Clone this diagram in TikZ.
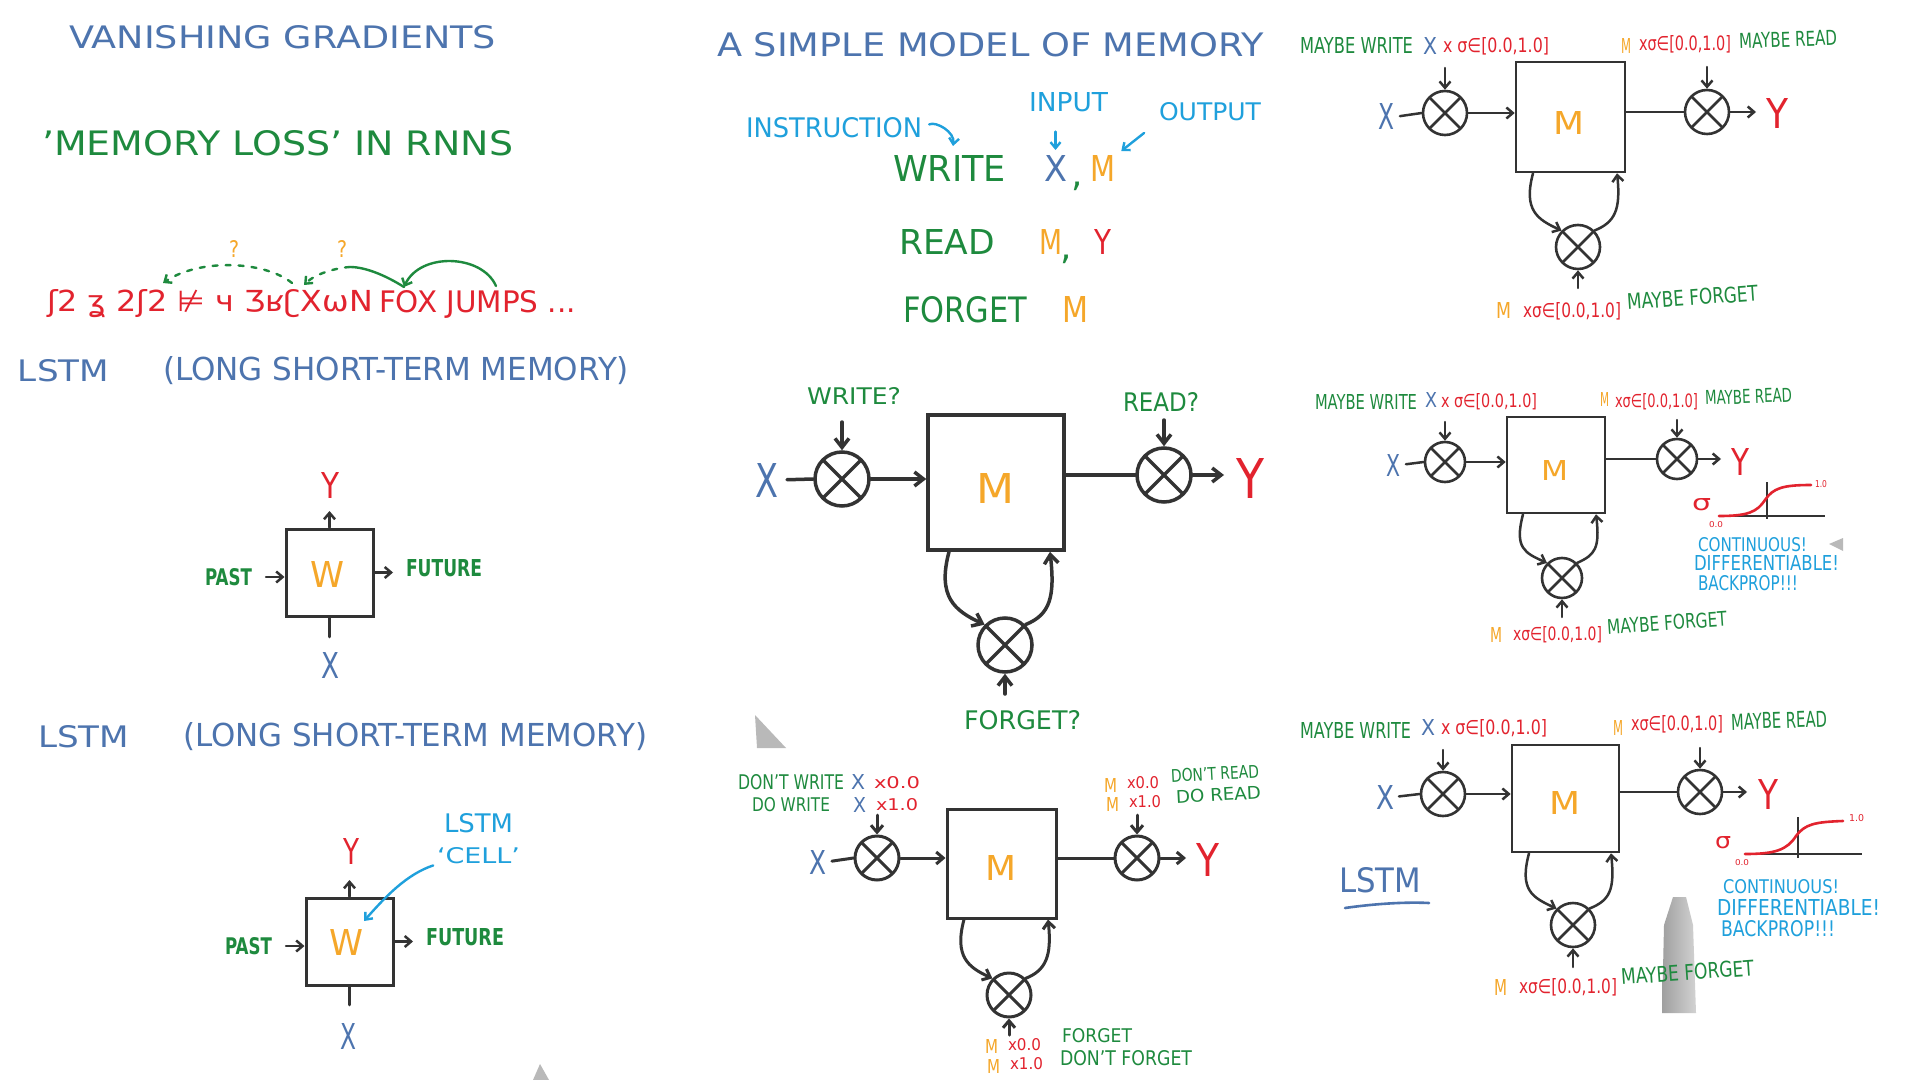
\documentclass[tikz,border=0pt]{standalone}
\usepackage{fontspec}
\setmainfont{DejaVu Sans}
\usepackage{graphicx}
\usetikzlibrary{arrows.meta}
\definecolor{cblue}{HTML}{4D74AE}
\definecolor{cgreen}{HTML}{1E8A3E}
\definecolor{cred}{HTML}{E2232E}
\definecolor{corange}{HTML}{F5A72A}
\definecolor{ccyan}{HTML}{1FA0DC}
\definecolor{ink}{HTML}{333333}
\newlength\px \setlength\px{0.5pt}
\newcommand\rsz[4]{\resizebox{\dimexpr\px*(#2-#1)\relax}{\dimexpr\px*(#3)\relax}{#4}}
\newcommand\tlab[8][]{\node[lab,text=#3,anchor=west,#1] (#2) at (#4,#6) {\rsz{#4}{#5}{#7}{#8}};}
\begin{document}
\begin{tikzpicture}[x=0.5pt,y=-0.5pt,
 lab/.style={inner sep=0pt,outer sep=0pt},
 ln/.style={draw=ink,line width=1.75pt,line cap=round},
 arr/.style={ln,-{Straight Barb[length=4.5pt,width=7pt]}},
 mln/.style={draw=ink,line width=1.5pt,line cap=round},
 marr/.style={mln,-{Straight Barb[length=3.5pt,width=6pt]}},
 sln/.style={draw=ink,line width=1.25pt,line cap=round},
 sarr/.style={sln,-{Straight Barb[length=3.2pt,width=5.5pt]}},
 carr/.style={draw=ccyan,line width=1.2pt,line cap=round,-{Straight Barb[length=3pt,width=5pt]}},
 gsol/.style={draw=cgreen,line width=1.2pt,line cap=round},
 gdash/.style={draw=cgreen,line width=1.2pt,line cap=round,dash pattern=on 2.5pt off 4pt},
 mbox/.style={draw=ink,line width=1.5pt,inner sep=0pt},
 mult/.style={circle,draw=ink,line width=#1,inner sep=0pt,
   path picture={\draw[ink,line width=#1] (path picture bounding box.north west)--(path picture bounding box.south east) (path picture bounding box.north east)--(path picture bounding box.south west);}},
 pen/.style={fill=gray!55,draw=none}]
\fill[white] (0,0) rectangle (1920,1080);
\useasboundingbox (0,0) rectangle (1920,1080);

% pens (background artefacts)
\fill[pen] (755,715) -- (786,748) -- (757,748) -- cycle;
\fill[pen] (540,1064) -- (549,1080) -- (533,1080) -- cycle;
\fill[pen] (1829,544) -- (1843,538) -- (1843,551) -- cycle;
\shade[left color=gray!75,right color=gray!35] (1673,897) -- (1686,897) -- (1693,925) -- (1696,1013) -- (1662,1013) -- (1664,925) -- cycle;

% ---------------- left column
\tlab{t1}{cblue}{69}{496}{37}{23}{VANISHING GRADIENTS}
\tlab{t2}{cgreen}{42}{513}{143}{25}{'MEMORY LOSS' IN RNNS}
\tlab{q1}{corange}{229}{239}{249}{17}{?}
\tlab{q2}{corange}{337}{347}{249}{17}{?}
\tlab{g}{cred}{47}{373}{304}{22}{ʃ2 ʓ 2ʃ2 ⊭ ч ƷʁʗXωN}
\tlab{fox}{cred}{379}{576}{304}{22}{FOX JUMPS ...}
\coordinate (a1) at (163,283);
\coordinate (d1) at (292,283);
\coordinate (a2) at (304,285);
\coordinate (s2) at (350,267);
\coordinate (a3) at (404,287);
\coordinate (j1) at (496,286);
\draw[gdash,-{Straight Barb[length=3pt,width=5pt]}] (d1) .. controls (265,261) and (200,258) .. (a1);
\draw[gdash,-{Straight Barb[length=3pt,width=5pt]}] (s2) .. controls (335,268) and (315,274) .. (a2);
\draw[gsol] (a3) .. controls (385,275) and (365,267) .. (s2);
\draw[gsol,-{Straight Barb[length=3pt,width=5.5pt]}] (j1) .. controls (482,254) and (420,252) .. (a3);
\tlab{t3}{cblue}{18}{109}{371}{22}{LSTM}
\tlab{t4}{cblue}{163}{629}{371}{24}{(LONG SHORT-TERM MEMORY)}

% box 1
\node[mbox,minimum width=43.5pt,minimum height=43.5pt] (B1) at (329.5,572.5) {};
\node[lab,text=corange] (W1t) at (327,574) {\rsz{0}{34}{26}{W}};
\tlab{Y1}{cred}{321}{339}{485}{26}{Y}
\tlab{X1}{cblue}{321}{339}{665}{26}{X}
\tlab[font=\bfseries]{P1}{cgreen}{205}{252}{577}{17}{PAST}
\tlab[font=\bfseries]{FU1}{cgreen}{406}{482}{568}{17}{FUTURE}
\draw[sarr,shorten >=6.5pt] (B1.north) -- (B1.north |- Y1.south);
\draw[sln,shorten >=7.5pt] (B1.south) -- (B1.south |- X1.north);
\draw[sarr,shorten <=7pt] (P1.east) -- (P1.east -| B1.west);
\draw[sarr,shorten >=6.5pt] (B1.east) -- (B1.east -| FU1.west);

\tlab{t5}{cblue}{38}{129}{737}{22}{LSTM}
\tlab{t6}{cblue}{183}{647}{737}{24}{(LONG SHORT-TERM MEMORY)}

% box 2
\node[mbox,minimum width=43.5pt,minimum height=43.5pt] (B2) at (349.5,941.5) {};
\node[lab,text=corange] (W2t) at (346,942.5) {\rsz{0}{34}{26}{W}};
\tlab{Y2}{cred}{343}{359}{851}{26}{Y}
\tlab{X2}{cblue}{340}{356}{1036}{26}{X}
\tlab[font=\bfseries]{P2}{cgreen}{225}{272}{946}{17}{PAST}
\tlab[font=\bfseries]{FU2}{cgreen}{426}{504}{937}{17}{FUTURE}
\draw[sarr,shorten >=8pt] (B2.north) -- (B2.north |- Y2.south);
\draw[sln,shorten >=9pt] (B2.south) -- (B2.south |- X2.north);
\draw[sarr,shorten <=7pt] (P2.east) -- (P2.east -| B2.west);
\draw[sarr,shorten >=6.5pt] (B2.east) -- (B2.east -| FU2.west);
\tlab{LC}{ccyan}{444}{513}{823}{19}{LSTM}
\tlab{CL}{ccyan}{437}{520}{856}{16}{`CELL'}
\coordinate (cellend) at (364,921);
\draw[carr,shorten <=2pt] (CL.south west) .. controls +(-30,10) and +(22,-25) .. (cellend);

% ---------------- middle top
\tlab{t7}{cblue}{717}{1264}{45}{24}{A SIMPLE MODEL OF MEMORY}
\tlab{INS}{ccyan}{746}{922}{128}{20}{INSTRUCTION}
\tlab{INP}{ccyan}{1029}{1108}{102}{19}{INPUT}
\tlab{OUT}{ccyan}{1159}{1261}{112}{18}{OUTPUT}
\tlab{WR}{cgreen}{893}{1006}{169}{26}{WRITE}
\tlab{WX}{cblue}{1044}{1067}{169}{26}{X}
\node[lab,text=cgreen,font=\fontsize{18pt}{18pt}\selectfont] (WC) at (1077,186) {,};
\tlab{WM}{corange}{1090}{1115}{169}{26}{M}
\tlab{RD}{cgreen}{899}{995}{242}{25}{READ}
\tlab{RM}{corange}{1039}{1062}{242}{25}{M}
\node[lab,text=cgreen,font=\fontsize{18pt}{18pt}\selectfont] (RC) at (1066,259) {,};
\tlab{RY}{cred}{1094}{1111}{242}{25}{Y}
\tlab{FG}{cgreen}{903}{1027}{310}{26}{FORGET}
\tlab{FM}{corange}{1062}{1088}{310}{26}{M}
\coordinate (insend) at (953,146);
\draw[carr,shorten <=4pt] (INS.east) .. controls +(14,-7) and +(2,-14) .. (insend);
\draw[carr,shorten <=10pt,shorten >=3pt] (INP.south -| WX.north) -- (WX.north);
\draw[carr,shorten <=9.5pt,shorten >=4pt] (OUT.south west) -- (WM.north east);

% ---------------- middle big diagram
\tlab{WQ}{cgreen}{807}{901}{396}{17}{WRITE?}
\tlab{RQ}{cgreen}{1123}{1199}{402}{19}{READ?}
\tlab{FQ}{cgreen}{964}{1081}{720}{19}{FORGET?}
\tlab{BX}{cblue}{755}{778}{480}{34}{X}
\tlab{BY}{cred}{1236}{1264}{478}{40}{Y}
\node[mbox,line width=1.75pt,minimum width=68pt,minimum height=67.5pt] (BB) at (996,482.5) {};
\tlab{BM}{corange}{976}{1014}{488}{30}{M}
\node[mult=1.75pt,minimum size=27pt] (GW) at (842,479) {};
\node[mult=1.75pt,minimum size=27pt] (GR) at (1164,475) {};
\node[mult=1.75pt,minimum size=27pt] (GF) at (1005,645) {};
\coordinate (gwin) at (842,422);
\coordinate (grin) at (1164,420);
\coordinate (gfin) at (1005,694);
\draw[arr] (gwin) -- (GW.north);
\draw[arr] (grin) -- (GR.north);
\draw[arr] (gfin) -- (GF.south);
\draw[ln,shorten <=4.5pt] (BX.east) -- (GW.west);
\draw[arr] (GW.east) -- (GW.east -| BB.west);
\draw[ln] (GR.west -| BB.east) -- (GR.west);
\draw[arr,shorten >=6pt] (GR.east) -- (GR.east -| BY.west);
\draw[arr] ([xshift=-23.5pt]BB.south) .. controls +(-12,45) and +(-30,-14) .. (GF.north west);
\draw[arr] (GF.north east) .. controls +(25,-10) and +(5,45) .. ([xshift=27pt]BB.south);

% ---------------- middle bottom diagram
\tlab{DW}{cgreen}{738}{844}{782}{15}{DON'T WRITE}
\tlab{DWX}{cblue}{851}{865}{782}{15}{X}
\tlab{DWV}{cred}{874}{920}{783}{12}{x0.0}
\tlab{OW}{cgreen}{752}{830}{805}{14}{DO WRITE}
\tlab{OWX}{cblue}{853}{866}{805}{15}{X}
\tlab{OWV}{cred}{876}{918}{805}{12}{x1.0}
\tlab{X3}{cblue}{809}{826}{862}{24}{X}
\node[mbox,minimum width=54.5pt,minimum height=54.5pt] (B3) at (1001.5,863.5) {};
\tlab{M3}{corange}{985}{1016}{868}{25}{M}
\node[mult=1.5pt,minimum size=22pt] (GW3) at (877,858) {};
\node[mult=1.5pt,minimum size=22pt] (GR3) at (1137,858) {};
\node[mult=1.5pt,minimum size=22pt] (GF3) at (1009,995) {};
\tlab{Y3}{cred}{1196}{1219}{860}{33}{Y}
\coordinate (gw3) at (877,815);
\coordinate (gr3) at (1137,815);
\coordinate (gf3) at (1009,1035);
\draw[marr] (gw3) -- (GW3.north);
\draw[marr] (gr3) -- (GR3.north);
\draw[marr] (gf3) -- (GF3.south);
\draw[mln,shorten <=3pt] (X3.east) -- (GW3.west);
\draw[marr] (GW3.east) -- (GW3.east -| B3.west);
\draw[mln] (GR3.west -| B3.east) -- (GR3.west);
\draw[marr,shorten >=5pt] (GR3.east) -- (GR3.east -| Y3.west);
\draw[marr] ([xshift=-18.75pt]B3.south) .. controls +(-10,37) and +(-24,-11) .. (GF3.north west);
\draw[marr] (GF3.north east) .. controls +(20,-8) and +(4,37) .. ([xshift=23.25pt]B3.south);
\tlab{RM1}{corange}{1104}{1117}{785}{14}{M}
\tlab{RV1}{cred}{1127}{1159}{783}{12}{x0.0}
\tlab[rotate=3]{DR}{cgreen}{1171}{1259}{776}{13}{DON'T READ}
\tlab{RM2}{corange}{1106}{1119}{804}{14}{M}
\tlab{RV2}{cred}{1129}{1161}{802}{12}{x1.0}
\tlab[rotate=3]{DOR}{cgreen}{1176}{1261}{797}{13}{DO READ}
\tlab{FM1}{corange}{985}{998}{1046}{14}{M}
\tlab{FV1}{cred}{1008}{1041}{1045}{12}{x0.0}
\tlab{FGT}{cgreen}{1062}{1132}{1036}{14}{FORGET}
\tlab{FM2}{corange}{987}{1000}{1066}{14}{M}
\tlab{FV2}{cred}{1010}{1043}{1064}{12}{x1.0}
\tlab{DFG}{cgreen}{1060}{1192}{1058}{15}{DON'T FORGET}

% ---------------- right top diagram
\tlab{MW4}{cgreen}{1300}{1413}{46}{16}{MAYBE WRITE}
\tlab{MX4}{cblue}{1423}{1437}{46}{17}{X}
\tlab{MS4}{cred}{1443}{1549}{46}{15}{x σ∈[0.0,1.0]}
\tlab{MM4}{corange}{1621}{1631}{46}{15}{M}
\tlab{MT4}{cred}{1639}{1731}{44}{15}{xσ∈[0.0,1.0]}
\tlab[rotate=2]{MR4}{cgreen}{1739}{1837}{41}{15}{MAYBE READ}
\node[mbox,line width=1.3pt,minimum width=54.5pt,minimum height=55pt] (B4) at (1570.5,117) {};
\tlab{M4}{corange}{1553}{1584}{123}{23}{M}
\node[mult=1.3pt,minimum size=22pt] (GW4) at (1445,113) {};
\node[mult=1.3pt,minimum size=22pt] (GR4) at (1707,112) {};
\node[mult=1.3pt,minimum size=22pt] (GF4) at (1578,247) {};
\tlab{X4}{cblue}{1378}{1394}{117}{26}{X}
\tlab{Y4}{cred}{1766}{1788}{114}{30}{Y}
\coordinate (gw4) at (1445,68);
\coordinate (gr4) at (1707,67);
\coordinate (gf4) at (1578,288);
\draw[sarr] (gw4) -- (GW4.north);
\draw[sarr] (gr4) -- (GR4.north);
\draw[sarr] (gf4) -- (GF4.south);
\draw[sln,shorten <=3pt] (X4.east) -- (GW4.west);
\draw[sarr] (GW4.east) -- (GW4.east -| B4.west);
\draw[sln] (GR4.west -| B4.east) -- (GR4.west);
\draw[sarr,shorten >=5pt] (GR4.east) -- (GR4.east -| Y4.west);
\draw[sarr] ([xshift=-18.75pt]B4.south) .. controls +(-10,37) and +(-24,-11) .. (GF4.north west);
\draw[sarr] (GF4.north east) .. controls +(20,-8) and +(4,37) .. ([xshift=23.25pt]B4.south);
\tlab{FM4}{corange}{1496}{1511}{311}{16}{M}
\tlab{FS4}{cred}{1523}{1621}{311}{15}{xσ∈[0.0,1.0]}
\tlab[rotate=4]{FL4}{cgreen}{1627}{1758}{302}{16}{MAYBE FORGET}

% ---------------- right middle diagram
\tlab{MW5}{cgreen}{1315}{1417}{402}{15}{MAYBE WRITE}
\tlab{MX5}{cblue}{1425}{1437}{400}{15}{X}
\tlab{MS5}{cred}{1441}{1537}{402}{14}{x σ∈[0.0,1.0]}
\tlab{MM5}{corange}{1600}{1609}{400}{14}{M}
\tlab{MT5}{cred}{1615}{1698}{402}{14}{xσ∈[0.0,1.0]}
\tlab[rotate=2]{MR5}{cgreen}{1705}{1792}{398}{14}{MAYBE READ}
\node[mbox,line width=1.3pt,minimum width=49pt,minimum height=48pt] (B5) at (1556,465) {};
\tlab{M5}{corange}{1541}{1568}{470}{20}{M}
\node[mult=1.3pt,minimum size=20pt] (GW5) at (1445,462) {};
\node[mult=1.3pt,minimum size=20pt] (GR5) at (1677,459) {};
\node[mult=1.3pt,minimum size=20pt] (GF5) at (1562,578) {};
\tlab{X5}{cblue}{1386}{1400}{465}{22}{X}
\tlab{Y5}{cred}{1731}{1749}{462}{27}{Y}
\coordinate (gw5) at (1445,422);
\coordinate (gr5) at (1677,420);
\coordinate (gf5) at (1562,617);
\draw[sarr] (gw5) -- (GW5.north);
\draw[sarr] (gr5) -- (GR5.north);
\draw[sarr] (gf5) -- (GF5.south);
\draw[sln,shorten <=3pt] (X5.east) -- (GW5.west);
\draw[sarr] (GW5.east) -- (GW5.east -| B5.west);
\draw[sln] (GR5.west -| B5.east) -- (GR5.west);
\draw[sarr,shorten >=5pt] (GR5.east) -- (GR5.east -| Y5.west);
\draw[sarr] ([xshift=-16.5pt]B5.south) .. controls +(-9,34) and +(-22,-10) .. (GF5.north west);
\draw[sarr] (GF5.north east) .. controls +(18,-8) and +(4,34) .. ([xshift=20pt]B5.south);
\tlab{FM5}{corange}{1490}{1502}{635}{15}{M}
\tlab{FS5}{cred}{1513}{1602}{635}{14}{xσ∈[0.0,1.0]}
\tlab[rotate=4]{FL5}{cgreen}{1607}{1727}{627}{15}{MAYBE FORGET}
% sigmoid 1
\tlab{SG1}{cred}{1692}{1711}{505}{12}{σ}
\draw[ink,line width=1.1pt] (1719,516) -- (1825,516);
\draw[ink,line width=1.1pt] (1767,482) -- (1767,519);
\draw[cred,line width=1.3pt,line cap=round] (1719,516) .. controls (1748,516) and (1757,512) .. (1765,500) .. controls (1773,488) and (1783,485) .. (1811,485);
\tlab{S1a}{cred}{1815}{1827}{484}{7}{1.0}
\tlab{S1b}{cred}{1709}{1723}{525}{6}{0.0}
\tlab{CO1}{ccyan}{1698}{1807}{545}{14}{CONTINUOUS!}
\tlab{DI1}{ccyan}{1694}{1839}{563}{15}{DIFFERENTIABLE!}
\tlab{BA1}{ccyan}{1698}{1798}{583}{15}{BACKPROP!!!}

% ---------------- right bottom diagram
\tlab{MW6}{cgreen}{1300}{1411}{730}{16}{MAYBE WRITE}
\tlab{MX6}{cblue}{1421}{1435}{727}{16}{X}
\tlab{MS6}{cred}{1441}{1547}{728}{15}{x σ∈[0.0,1.0]}
\tlab{MM6}{corange}{1613}{1623}{728}{15}{M}
\tlab{MT6}{cred}{1631}{1723}{724}{15}{xσ∈[0.0,1.0]}
\tlab[rotate=2]{MR6}{cgreen}{1731}{1827}{722}{16}{MAYBE READ}
\node[mbox,line width=1.3pt,minimum width=53.5pt,minimum height=53.5pt] (B6) at (1565.5,798.5) {};
\tlab{M6}{corange}{1549}{1580}{803}{23}{M}
\node[mult=1.3pt,minimum size=22pt] (GW6) at (1443,794) {};
\node[mult=1.3pt,minimum size=22pt] (GR6) at (1700,792) {};
\node[mult=1.3pt,minimum size=22pt] (GF6) at (1573,925) {};
\tlab{X6}{cblue}{1376}{1394}{797}{24}{X}
\tlab{Y6}{cred}{1758}{1778}{794}{30}{Y}
\coordinate (gw6) at (1443,750);
\coordinate (gr6) at (1700,748);
\coordinate (gf6) at (1573,967);
\draw[sarr] (gw6) -- (GW6.north);
\draw[sarr] (gr6) -- (GR6.north);
\draw[sarr] (gf6) -- (GF6.south);
\draw[sln,shorten <=2.5pt] (X6.east) -- (GW6.west);
\draw[sarr] (GW6.east) -- (GW6.east -| B6.west);
\draw[sln] (GR6.west -| B6.east) -- (GR6.west);
\draw[sarr,shorten >=5.5pt] (GR6.east) -- (GR6.east -| Y6.west);
\draw[sarr] ([xshift=-18.25pt]B6.south) .. controls +(-10,37) and +(-24,-11) .. (GF6.north west);
\draw[sarr] (GF6.north east) .. controls +(20,-8) and +(4,37) .. ([xshift=22.75pt]B6.south);
\tlab{FM6}{corange}{1494}{1507}{987}{16}{M}
\tlab{FS6}{cred}{1519}{1617}{987}{15}{xσ∈[0.0,1.0]}
\tlab[rotate=4]{FL6}{cgreen}{1621}{1754}{977}{16}{MAYBE FORGET}
% sigmoid 2
\tlab{SG2}{cred}{1715}{1731}{843}{12}{σ}
\draw[ink,line width=1.1pt] (1745,854) -- (1862,854);
\draw[ink,line width=1.1pt] (1798,817) -- (1798,858);
\draw[cred,line width=1.3pt,line cap=round] (1745,854) .. controls (1775,854) and (1787,850) .. (1796,836) .. controls (1805,824) and (1815,822) .. (1843,821);
\tlab{S2a}{cred}{1849}{1864}{818}{7}{1.0}
\tlab{S2b}{cred}{1735}{1749}{863}{6}{0.0}
\tlab{CO2}{ccyan}{1723}{1839}{887}{14}{CONTINUOUS!}
\tlab{DI2}{ccyan}{1717}{1880}{907}{16}{DIFFERENTIABLE!}
\tlab{BA2}{ccyan}{1721}{1835}{929}{16}{BACKPROP!!!}
\tlab{L6}{cblue}{1339}{1421}{880}{25}{LSTM}
\draw[cblue,line width=1.3pt,line cap=round] (1345,908) .. controls (1380,903) and (1410,902) .. (1429,903);
\end{tikzpicture}
\end{document}
